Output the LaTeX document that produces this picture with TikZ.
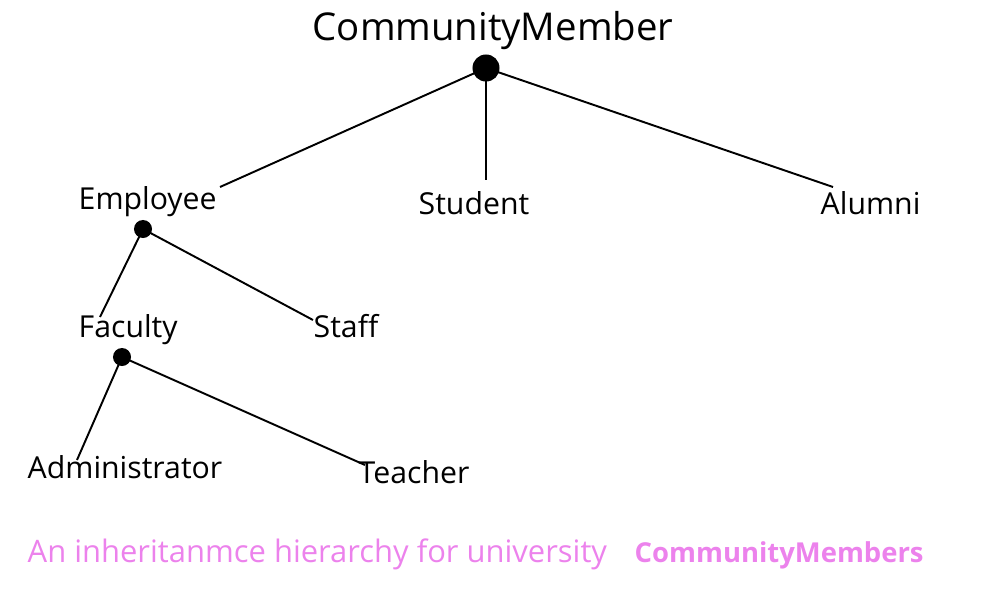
\documentclass[tikz,border=0pt]{standalone}
\usepackage{fontspec}
\setmainfont{Open Sans}
\definecolor{captionpink}{RGB}{236,130,236}
\tikzstyle{member} = [
    inner sep=0pt,
    anchor=base west,
    font=\fontsize{8.6}{10}\selectfont
]
\tikzstyle{rootname} = [
    member,
    font=\fontsize{10.9}{13}\selectfont
]
\tikzstyle{joint} = [
    circle,
    fill=black,
    inner sep=0pt,
    minimum size=0.18cm
]
\tikzstyle{rootjoint} = [joint, minimum size=0.27cm]
\tikzstyle{link} = [line width=0.55pt]
\tikzstyle{caption} = [
    member,
    text=captionpink,
    font=\fontsize{8.8}{10}\selectfont
]

\begin{document}
\begin{tikzpicture}[x=0.01cm, y=-0.01cm]
\useasboundingbox (0,0) rectangle (1000,600);

\node (community) [rootname] at (312,40) {CommunityMember};
\node (communitydot) [rootjoint] at (486,68) {};

\node (employee) [member] at (78,209) {Employee};
\node (student) [member] at (418,214) {Student};
\node (alumni) [member] at (820,214) {Alumni};
\node (employeedot) [joint] at (143,229) {};

\node (faculty) [member] at (78,337) {Faculty};
\node (staff) [member] at (313,337) {Staff};
\node (facultydot) [joint] at (122,357) {};

\node (admin) [member] at (27,478) {Administrator};
\node (teacher) [member] at (358,483) {Teacher};

\coordinate (employeeend) at (220,187);
\coordinate (studentend) at (486,180);
\coordinate (alumniend) at (833,187);
\coordinate (facultyend) at (100,317);
\coordinate (staffend) at (313,320);
\coordinate (adminend) at (77,460);
\coordinate (teacherend) at (365,465);

\draw [link] (communitydot.center) -- (employeeend);
\draw [link] (communitydot.center) -- (studentend);
\draw [link] (communitydot.center) -- (alumniend);
\draw [link] (employeedot.center) -- (facultyend);
\draw [link] (employeedot.center) -- (staffend);
\draw [link] (facultydot.center) -- (adminend);
\draw [link] (facultydot.center) -- (teacherend);

\node (caption) [caption] at (27,562) {An inheritanmce hierarchy for university};
\node (captionbold) [caption, font=\bfseries\fontsize{7.8}{10}\selectfont] at (634,562) {CommunityMembers};

\end{tikzpicture}
\end{document}
